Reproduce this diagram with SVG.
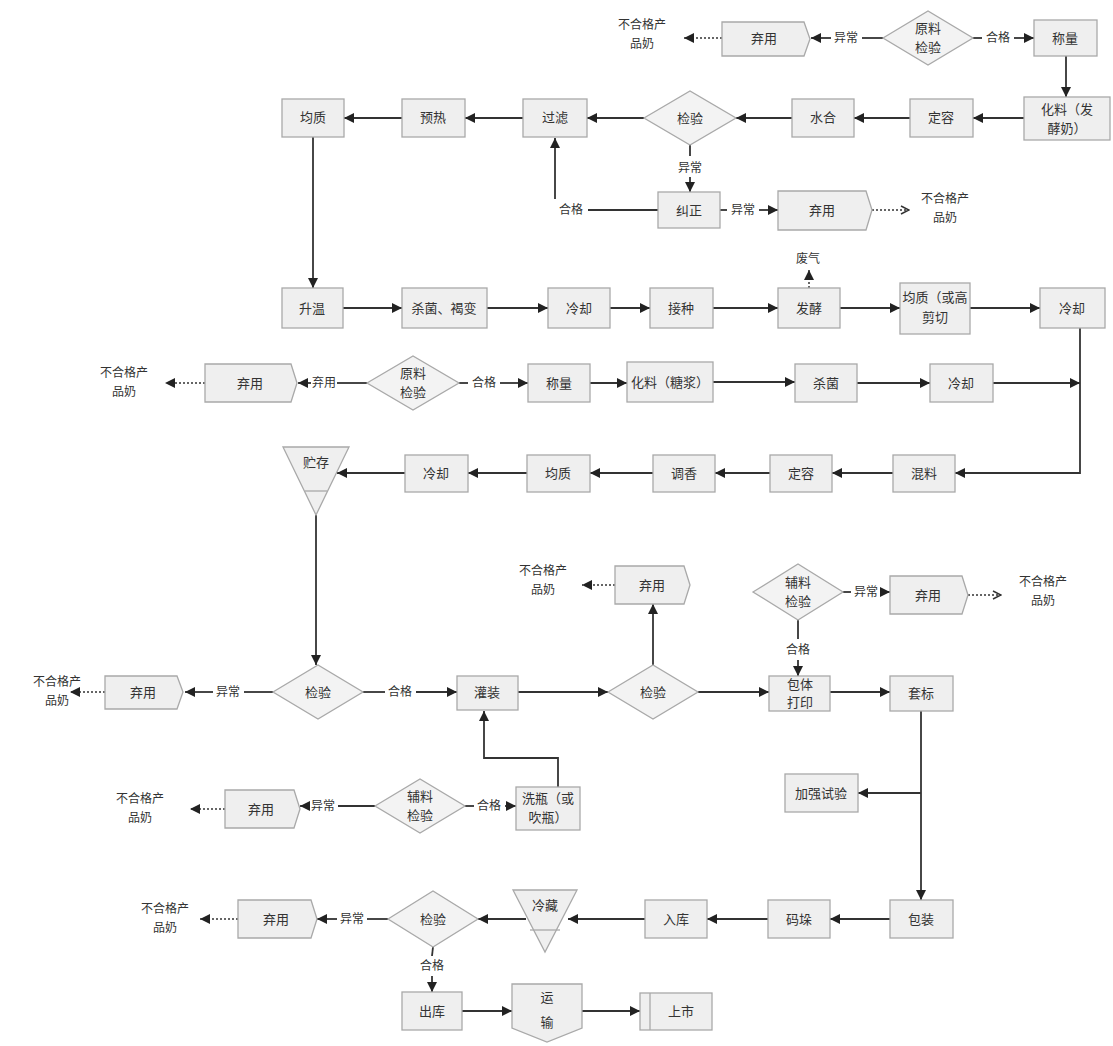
<svg xmlns="http://www.w3.org/2000/svg" width="1113" height="1046" viewBox="0 0 1113 1046">
<style>
.bx{fill:#efefef;stroke:#a9a9a9;stroke-width:1.3}
.dm{fill:#f3f3f3;stroke:#a9a9a9;stroke-width:1.3}
.t{font-family:"Liberation Serif","Noto Sans CJK SC",serif;font-size:13px;fill:#333;text-anchor:middle}
.s{font-family:"Liberation Serif","Noto Sans CJK SC",serif;font-size:12px;fill:#333;text-anchor:middle}
.ln{fill:none;stroke:#333;stroke-width:1.8}
.ar{fill:none;stroke:#333;stroke-width:1.8;marker-end:url(#ah)}
.dt{fill:none;stroke:#333;stroke-width:1.5;stroke-dasharray:2 2;marker-end:url(#ah)}
.dc{fill:none;stroke:#333;stroke-width:1.5;stroke-dasharray:2 2;marker-end:url(#oh)}
</style>
<defs>
<marker id="ah" viewBox="0 0 10 10" refX="10" refY="5" markerWidth="10" markerHeight="10" markerUnits="userSpaceOnUse" orient="auto"><path d="M0,0 L10,5 L0,10 Z" fill="#222"/></marker>
<marker id="oh" viewBox="0 0 10 10" refX="9" refY="5" markerWidth="10" markerHeight="10" markerUnits="userSpaceOnUse" orient="auto"><path d="M1,1 L9,5 L1,9" fill="none" stroke="#333" stroke-width="1.5"/></marker>
</defs>
<rect width="1113" height="1046" fill="#ffffff"/>

<g id="connectors">
<!-- row 1 -->
<path class="dt" d="M722,38 H684"/>
<path class="ln" d="M883,38 H862"/>
<path class="ar" d="M831,38 H811"/>
<path class="ln" d="M973,38 H982"/>
<path class="ar" d="M1014,38 H1034"/>
<path class="ar" d="M1066,56 V97"/>
<!-- row 2 -->
<path class="ar" d="M1024,118 H973"/>
<path class="ar" d="M910,118 H854"/>
<path class="ar" d="M792,118 H736"/>
<path class="ar" d="M644,118 H587"/>
<path class="ar" d="M523,118 H465"/>
<path class="ar" d="M402,118 H344"/>
<path class="ln" d="M690,145 V156"/>
<path class="ar" d="M690,177 V192"/>
<path class="ln" d="M720,210 H727"/>
<path class="ar" d="M759,210 H778"/>
<path class="dc" d="M872,210 H909"/>
<path class="ln" d="M658,210 H588"/>
<path class="ar" d="M555,199 V138"/>
<path class="ar" d="M313,137 V288"/>
<!-- row 3 -->
<path class="ar" d="M343,308 H402"/>
<path class="ar" d="M487,308 H548"/>
<path class="ar" d="M610,308 H650"/>
<path class="ar" d="M713,308 H778"/>
<path class="ar" d="M840,308 H900"/>
<path class="ar" d="M970,308 H1040"/>
<path class="dt" d="M809,288 V270"/>
<path class="ar" d="M1080,328 V473 H955"/>
<!-- row 4 -->
<path class="dt" d="M205,383 H165"/>
<path class="ar" d="M311,383 H298"/>
<path class="ln" d="M337,383 H367"/>
<path class="ln" d="M459,383 H468"/>
<path class="ar" d="M500,383 H528"/>
<path class="ar" d="M590,383 H627"/>
<path class="ar" d="M713,382 H795"/>
<path class="ar" d="M857,383 H930"/>
<path class="ar" d="M993,383 H1080"/>
<!-- row 5 -->
<path class="ar" d="M893,473 H832"/>
<path class="ar" d="M770,473 H715"/>
<path class="ar" d="M653,473 H590"/>
<path class="ar" d="M527,473 H468"/>
<path class="ar" d="M405,473 H337"/>
<path class="ar" d="M316,515 V665"/>
<!-- row 6 -->
<path class="ln" d="M273,692 H244"/>
<path class="ar" d="M213,692 H185"/>
<path class="dt" d="M105,692 H70"/>
<path class="ln" d="M363,692 H385"/>
<path class="ar" d="M416,692 H457"/>
<path class="ar" d="M518,692 H608"/>
<path class="ar" d="M653,665 V604"/>
<path class="dt" d="M615,585 H582"/>
<path class="ar" d="M698,692 H769"/>
<path class="ln" d="M843,592 H851"/>
<path class="ar" d="M881,592 H890"/>
<path class="dc" d="M968,595 H1001"/>
<path class="ln" d="M798,620 V639"/>
<path class="ar" d="M798,660 V676"/>
<path class="ar" d="M830,692 H890"/>
<path class="ar" d="M921,711 V900"/>
<path class="ar" d="M921,793 H858"/>
<!-- row 7 -->
<path class="ar" d="M558,787 V758 H484 V711"/>
<path class="ln" d="M465,806 H474"/>
<path class="ar" d="M505,806 H516"/>
<path class="ln" d="M375,806 H338"/>
<path class="ar" d="M309,806 H300"/>
<path class="dt" d="M225,809 H190"/>
<!-- row 8 -->
<path class="ar" d="M890,919 H830"/>
<path class="ar" d="M768,919 H707"/>
<path class="ar" d="M645,919 H568"/>
<path class="ar" d="M526,919 H478"/>
<path class="ln" d="M388,919 H367"/>
<path class="ar" d="M337,919 H317"/>
<path class="dt" d="M238,919 H200"/>
<path class="ln" d="M433,947 L432,956"/>
<path class="ar" d="M432,976 V992"/>
<path class="ar" d="M462,1011 H512"/>
<path class="ar" d="M582,1011 H640"/>
</g>

<g id="labels">
<text class="s" x="846" y="42">异常</text>
<text class="s" x="998" y="42">合格</text>
<text class="s" x="690" y="172">异常</text>
<text class="s" x="743" y="214">异常</text>
<text class="s" x="571" y="214">合格</text>
<text class="s" x="324" y="387">弃用</text>
<text class="s" x="484" y="387">合格</text>
<text class="s" x="228" y="696">异常</text>
<text class="s" x="400" y="696">合格</text>
<text class="s" x="866" y="596">异常</text>
<text class="s" x="798" y="654">合格</text>
<text class="s" x="489" y="810">合格</text>
<text class="s" x="323" y="810">异常</text>
<text class="s" x="352" y="923">异常</text>
<text class="s" x="432" y="970">合格</text>
</g>

<g id="rej1"><text class="s" x="642" y="29">不合格产</text><text class="s" x="642" y="48">品奶</text></g>
<g id="discard1"><path class="bx" d="M722,22 H804 L810,39 L804,56 H722 Z"/><text class="t" x="764" y="43">弃用</text></g>
<g id="check1"><polygon class="dm" points="883,38 928,11 973,38 928,65"/><text class="t" x="928" y="33">原料</text><text class="t" x="928" y="52">检验</text></g>
<g id="weigh1"><rect class="bx" x="1034" y="20" width="63" height="36"/><text class="t" x="1065" y="43">称量</text></g>
<g id="mix1"><rect class="bx" x="1024" y="97" width="86" height="43"/><text class="t" x="1067" y="114">化料（发</text><text class="t" x="1067" y="133">酵奶）</text></g>
<g id="vol1"><rect class="bx" x="910" y="99" width="63" height="38"/><text class="t" x="941" y="122">定容</text></g>
<g id="hydr"><rect class="bx" x="792" y="99" width="62" height="38"/><text class="t" x="823" y="122">水合</text></g>
<g id="check2"><polygon class="dm" points="644,118 690,91 736,118 690,145"/><text class="t" x="690" y="123">检验</text></g>
<g id="filter"><rect class="bx" x="523" y="99" width="64" height="38"/><text class="t" x="555" y="122">过滤</text></g>
<g id="preheat"><rect class="bx" x="402" y="99" width="63" height="38"/><text class="t" x="433" y="122">预热</text></g>
<g id="homo1"><rect class="bx" x="282" y="99" width="62" height="38"/><text class="t" x="313" y="122">均质</text></g>
<g id="correct"><rect class="bx" x="658" y="192" width="62" height="36"/><text class="t" x="689" y="215">纠正</text></g>
<g id="discard2"><path class="bx" d="M778,191 H866 L872,210 L866,230 H778 Z"/><text class="t" x="822" y="215">弃用</text></g>
<g id="rej2"><text class="s" x="945" y="203">不合格产</text><text class="s" x="945" y="222">品奶</text></g>

<g id="heat"><rect class="bx" x="282" y="288" width="61" height="40"/><text class="t" x="312" y="313">升温</text></g>
<g id="steril1"><rect class="bx" x="402" y="288" width="85" height="40"/><text class="t" x="444" y="313">杀菌、褐变</text></g>
<g id="cool1"><rect class="bx" x="548" y="288" width="62" height="40"/><text class="t" x="579" y="313">冷却</text></g>
<g id="inoc"><rect class="bx" x="650" y="288" width="63" height="40"/><text class="t" x="681" y="313">接种</text></g>
<g id="ferm"><rect class="bx" x="778" y="288" width="62" height="40"/><text class="t" x="809" y="313">发酵</text></g>
<g id="gas"><text class="s" x="808" y="263">废气</text></g>
<g id="homo2"><rect class="bx" x="900" y="283" width="70" height="51"/><text class="t" x="935" y="302">均质（或高</text><text class="t" x="935" y="322">剪切</text></g>
<g id="cool2"><rect class="bx" x="1040" y="288" width="65" height="40"/><text class="t" x="1072" y="313">冷却</text></g>

<g id="rej3"><text class="s" x="124" y="377">不合格产</text><text class="s" x="124" y="396">品奶</text></g>
<g id="discard3"><path class="bx" d="M205,364 H291 L297,383 L291,402 H205 Z"/><text class="t" x="250" y="388">弃用</text></g>
<g id="check3"><polygon class="dm" points="367,383 413,356 459,383 413,410"/><text class="t" x="413" y="378">原料</text><text class="t" x="413" y="397">检验</text></g>
<g id="weigh2"><rect class="bx" x="528" y="364" width="62" height="38"/><text class="t" x="559" y="388">称量</text></g>
<g id="mix2"><rect class="bx" x="627" y="362" width="86" height="40"/><text class="t" x="670" y="387">化料（糖浆）</text></g>
<g id="steril2"><rect class="bx" x="795" y="364" width="62" height="38"/><text class="t" x="826" y="388">杀菌</text></g>
<g id="cool3"><rect class="bx" x="930" y="364" width="63" height="38"/><text class="t" x="961" y="388">冷却</text></g>

<g id="blend"><rect class="bx" x="893" y="455" width="62" height="37"/><text class="t" x="924" y="478">混料</text></g>
<g id="vol2"><rect class="bx" x="770" y="455" width="62" height="37"/><text class="t" x="801" y="478">定容</text></g>
<g id="flavor"><rect class="bx" x="653" y="455" width="62" height="37"/><text class="t" x="684" y="478">调香</text></g>
<g id="homo3"><rect class="bx" x="527" y="455" width="63" height="37"/><text class="t" x="558" y="478">均质</text></g>
<g id="cool4"><rect class="bx" x="405" y="455" width="63" height="37"/><text class="t" x="436" y="478">冷却</text></g>
<g id="store"><polygon class="bx" points="283,447 349,447 316,515"/><path d="M305,491 H327" stroke="#a9a9a9" stroke-width="1.3"/><text class="t" x="316" y="467">贮存</text></g>

<g id="check4"><polygon class="dm" points="273,692 318,665 363,692 318,719"/><text class="t" x="318" y="697">检验</text></g>
<g id="discard4"><path class="bx" d="M105,676 H177 L183,692 L177,709 H105 Z"/><text class="t" x="143" y="697">弃用</text></g>
<g id="rej4"><text class="s" x="57" y="686">不合格产</text><text class="s" x="57" y="705">品奶</text></g>
<g id="fill"><rect class="bx" x="457" y="676" width="61" height="34"/><text class="t" x="487" y="697">灌装</text></g>
<g id="check5"><polygon class="dm" points="608,692 653,665 698,692 653,719"/><text class="t" x="653" y="697">检验</text></g>
<g id="discard5"><path class="bx" d="M615,566 H684 L690,585 L684,604 H615 Z"/><text class="t" x="652" y="590">弃用</text></g>
<g id="rej5"><text class="s" x="543" y="575">不合格产</text><text class="s" x="543" y="594">品奶</text></g>
<g id="check6"><polygon class="dm" points="753,592 798,564 843,592 798,620"/><text class="t" x="798" y="587">辅料</text><text class="t" x="798" y="606">检验</text></g>
<g id="discard6"><path class="bx" d="M890,576 H962 L968,595 L962,614 H890 Z"/><text class="t" x="928" y="600">弃用</text></g>
<g id="rej6"><text class="s" x="1043" y="586">不合格产</text><text class="s" x="1043" y="605">品奶</text></g>
<g id="print"><rect class="bx" x="769" y="676" width="61" height="35"/><text class="t" x="800" y="689">包体</text><text class="t" x="800" y="707">打印</text></g>
<g id="label"><rect class="bx" x="890" y="676" width="63" height="35"/><text class="t" x="921" y="698">套标</text></g>
<g id="test"><rect class="bx" x="785" y="774" width="73" height="38"/><text class="t" x="821" y="798">加强试验</text></g>

<g id="wash"><rect class="bx" x="516" y="787" width="64" height="43"/><text class="t" x="548" y="803">洗瓶（或</text><text class="t" x="548" y="822">吹瓶）</text></g>
<g id="check7"><polygon class="dm" points="375,806 420,779 465,806 420,833"/><text class="t" x="420" y="801">辅料</text><text class="t" x="420" y="820">检验</text></g>
<g id="discard7"><path class="bx" d="M225,790 H294 L300,809 L294,828 H225 Z"/><text class="t" x="261" y="814">弃用</text></g>
<g id="rej7"><text class="s" x="140" y="803">不合格产</text><text class="s" x="140" y="822">品奶</text></g>

<g id="pack"><rect class="bx" x="890" y="900" width="63" height="38"/><text class="t" x="921" y="924">包装</text></g>
<g id="stack"><rect class="bx" x="768" y="900" width="62" height="38"/><text class="t" x="799" y="924">码垛</text></g>
<g id="instore"><rect class="bx" x="645" y="900" width="62" height="38"/><text class="t" x="676" y="924">入库</text></g>
<g id="cold"><polygon class="bx" points="513,890 577,890 545,952"/><path d="M530,930 H560" stroke="#a9a9a9" stroke-width="1.3"/><text class="t" x="545" y="910">冷藏</text></g>
<g id="check8"><polygon class="dm" points="388,919 433,891 478,919 433,947"/><text class="t" x="433" y="924">检验</text></g>
<g id="discard8"><path class="bx" d="M238,900 H311 L317,919 L311,938 H238 Z"/><text class="t" x="276" y="924">弃用</text></g>
<g id="rej8"><text class="s" x="165" y="913">不合格产</text><text class="s" x="165" y="932">品奶</text></g>
<g id="out"><rect class="bx" x="402" y="992" width="60" height="38"/><text class="t" x="432" y="1016">出库</text></g>
<g id="trans"><path class="bx" d="M512,984 H582 V1028 L547,1042 L512,1028 Z"/><text class="t" x="547" y="1002">运</text><text class="t" x="547" y="1027">输</text></g>
<g id="market"><rect class="bx" x="640" y="993" width="72" height="37"/><path d="M650,993 V1030" stroke="#a9a9a9" stroke-width="1.3"/><text class="t" x="681" y="1016">上市</text></g>
</svg>
